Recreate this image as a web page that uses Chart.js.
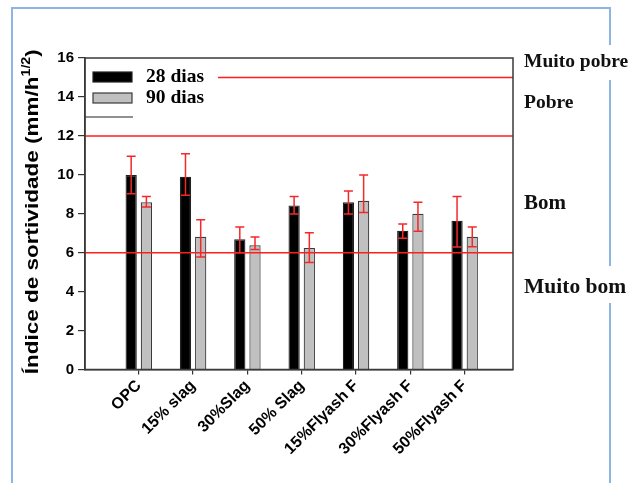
<!DOCTYPE html>
<html>
<head>
<meta charset="utf-8">
<script src="https://cdn.jsdelivr.net/npm/chart.js@4.4.1/dist/chart.umd.min.js"></script>
<style>html,body{margin:0;padding:0;background:#fff}</style>
</head>
<body>
<canvas id="myChart" width="642" height="483"></canvas>
<script>
const categories = ['OPC', '15% slag', '30%Slag', '50% Slag', '15%Flyash F', '30%Flyash F', '50%Flyash F'];
const seriesNames = ['28 dias', '90 dias'];
const dias28 = [9.99, 9.9, 6.69, 8.43, 8.59, 7.13, 7.64];
const dias90 = [8.59, 6.82, 6.38, 6.24, 8.67, 8.0, 6.82];
// error bar ends (upper / lower)
const hi28 = [10.95, 11.08, 7.32, 8.88, 9.17, 7.47, 8.88];
const lo28 = [9.03, 8.95, 6.0, 7.99, 7.99, 6.74, 6.29];
const hi90 = [8.88, 7.69, 6.81, 7.03, 9.99, 8.59, 7.32];
const lo90 = [8.35, 5.78, 6.17, 5.49, 8.07, 7.1, 6.31];
const yTicks = [0, 2, 4, 6, 8, 10, 12, 14, 16];
const limitLines = [6, 12, 15];
const zoneNames = ['Muito pobre', 'Pobre', 'Bom', 'Muito bom'];
const zoneAt = [15.8, 13.7, 8.5, 4.2];
const yTitle = 'Índice de sortividade (mm/h';
const yTitleSup = '1/2';

const serifFam = '"Liberation Serif", "Times New Roman", serif';
const serif = 'bold 19.5px ' + serifFam;
const zoneSizes = [19.5, 19.5, 21, 21.5];
const sans = '"Liberation Sans", Arial, sans-serif';

const decor = {
  id: 'decor',
  beforeDraw(chart) {
    const ctx = chart.ctx;
    ctx.save();
    ctx.fillStyle = '#fff';
    ctx.fillRect(0, 0, chart.width, chart.height);
    // light blue frame round the figure
    ctx.strokeStyle = '#8db4e2';
    ctx.lineWidth = 2;
    ctx.beginPath();
    ctx.moveTo(12, 483); ctx.lineTo(12, 8); ctx.lineTo(610, 8); ctx.lineTo(610, 45);
    ctx.moveTo(610, 80); ctx.lineTo(610, 266);
    ctx.moveTo(610, 303); ctx.lineTo(610, 483);
    ctx.stroke();
    ctx.restore();
  },
  afterDatasetsDraw(chart) {
    const ctx = chart.ctx;
    const a = chart.chartArea;
    const y = chart.scales.y;
    ctx.save();

    // legend inside the plot
    ctx.font = serif;
    ctx.textBaseline = 'middle';
    ctx.fillStyle = '#000';
    const rows = [77, 98];
    let legendEnd = 0;
    chart.data.datasets.forEach((ds, d) => {
      ctx.fillStyle = ds.backgroundColor;
      ctx.fillRect(93, rows[d] - 5, 39, 10);
      ctx.strokeStyle = ds.borderColor;
      ctx.lineWidth = 1.2;
      ctx.strokeRect(93, rows[d] - 5, 39, 10);
      ctx.fillStyle = '#000';
      ctx.fillText(ds.label, 146, rows[d]);
      legendEnd = Math.max(legendEnd, 146 + ctx.measureText(ds.label).width);
    });
    ctx.strokeStyle = '#222';
    ctx.lineWidth = 1.2;
    ctx.beginPath();
    ctx.moveTo(a.left, 117); ctx.lineTo(133, 117);
    ctx.stroke();

    // limit lines
    ctx.strokeStyle = 'rgb(255,30,30)';
    ctx.lineWidth = 1.5;
    limitLines.forEach(v => {
      const py = y.getPixelForValue(v);
      const x0 = v === 15 ? legendEnd + 14 : a.left;
      ctx.beginPath();
      ctx.moveTo(x0, py); ctx.lineTo(a.right, py);
      ctx.stroke();
    });

    // error bars
    const ends = [[hi28, lo28], [hi90, lo90]];
    ctx.strokeStyle = 'rgb(245,40,40)';
    ctx.lineWidth = 1.5;
    ends.forEach((pair, d) => {
      chart.getDatasetMeta(d).data.forEach((bar, i) => {
        const x = bar.x;
        const t = y.getPixelForValue(pair[0][i]);
        const b = y.getPixelForValue(pair[1][i]);
        ctx.beginPath();
        ctx.moveTo(x, t); ctx.lineTo(x, b);
        ctx.moveTo(x - 4.5, t); ctx.lineTo(x + 4.5, t);
        ctx.moveTo(x - 4.5, b); ctx.lineTo(x + 4.5, b);
        ctx.stroke();
      });
    });

    // box round the plot
    ctx.strokeStyle = '#3a3a3a';
    ctx.lineWidth = 1.5;
    ctx.strokeRect(a.left, a.top, a.right - a.left, a.bottom - a.top);

    // zone names on the right
    ctx.fillStyle = '#111';
    ctx.textAlign = 'left';
    zoneNames.forEach((n, i) => {
      ctx.font = 'bold ' + zoneSizes[i] + 'px ' + serifFam;
      ctx.fillText(n, 524, y.getPixelForValue(zoneAt[i]));
    });

    // y title with superscript
    ctx.translate(33, (a.top + a.bottom) / 2 - 2);
    ctx.rotate(-Math.PI / 2);
    const big = 'bold 19px ' + sans, small = 'bold 12px ' + sans;
    ctx.font = big;
    const w1 = ctx.measureText(yTitle).width, w3 = ctx.measureText(')').width;
    ctx.font = small;
    const w2 = ctx.measureText(yTitleSup).width;
    const total = w1 + w2 + w3;
    ctx.scale(325 / total, 1);
    let x = -total / 2;
    ctx.fillStyle = '#000';
    ctx.textBaseline = 'middle';
    ctx.font = big;
    ctx.fillText(yTitle, x, 0);
    x += w1;
    ctx.font = small;
    ctx.fillText(yTitleSup, x, -6);
    x += w2;
    ctx.font = big;
    ctx.fillText(')', x, 0);
    ctx.restore();
  }
};

new Chart(document.getElementById('myChart'), {
  type: 'bar',
  data: {
    datasets: [
      {
        label: seriesNames[0],
        data: dias28.map((v, i) => ({x: i, y: v})),
        backgroundColor: '#000000',
        borderColor: '#222222',
        borderWidth: 1.2
      },
      {
        label: seriesNames[1],
        data: dias90.map((v, i) => ({x: i, y: v})),
        backgroundColor: '#c0c0c0',
        borderColor: '#3a3a3a',
        borderWidth: 1.2
      }
    ]
  },
  options: {
    responsive: false,
    animation: false,
    categoryPercentage: 0.56,
    barPercentage: 0.74,
    layout: {padding: {left: 0, right: 129, top: 58, bottom: 0}},
    plugins: {legend: {display: false}, tooltip: {enabled: false}},
    scales: {
      x: {
        type: 'linear',
        offset: false,
        min: -0.99,
        max: categories.length - 0.11,
        afterFit: s => { s.height = 113.5; },
        afterBuildTicks: s => { s.ticks = categories.map((c, i) => ({value: i})); },
        grid: {offset: false, drawOnChartArea: false, tickLength: 5, color: '#333', lineWidth: 1.2},
        border: {color: '#3a3a3a', width: 1.5},
        ticks: {
          autoSkip: false,
          minRotation: 45,
          maxRotation: 45,
          padding: 2,
          color: '#000',
          font: {family: sans, size: 16, weight: 'bold'},
          callback: v => categories[v]
        }
      },
      y: {
        min: 0,
        max: 16,
        afterFit: s => { s.width = 85; },
        afterBuildTicks: s => { s.ticks = yTicks.map(v => ({value: v})); },
        grid: {drawOnChartArea: false, tickLength: 7, color: '#333', lineWidth: 1.2},
        border: {color: '#3a3a3a', width: 1.5},
        ticks: {
          padding: 4,
          color: '#000',
          font: {family: sans, size: 15, weight: 'bold'}
        }
      }
    }
  },
  plugins: [decor]
});
</script>
</body>
</html>
